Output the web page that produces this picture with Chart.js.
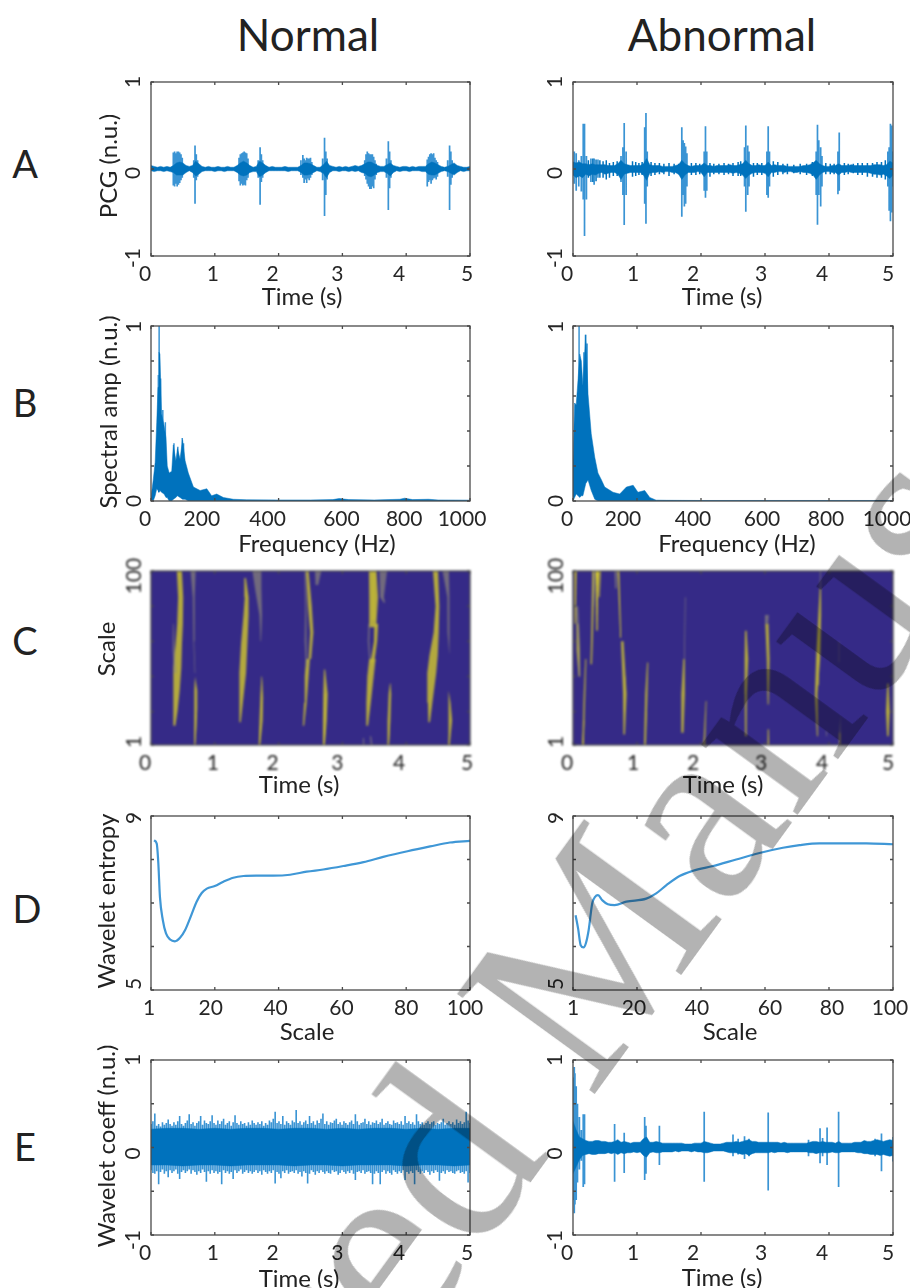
<!DOCTYPE html>
<html>
<head>
<meta charset="utf-8">
<title>PCG panels</title>
<script src="https://cdn.jsdelivr.net/npm/chart.js@4"></script>
<style>
  html, body { margin: 0; background: #fff; width: 910px; height: 1288px; overflow: hidden; }
  canvas { position: absolute; filter: blur(0.5px); }
  .txt { position: absolute; font-family: Lato, sans-serif; color: #222; white-space: nowrap; transform: translate(-50%, -50%); }
  .rot { transform: translate(-50%, -50%) rotate(-90deg); }
  #mark { position: absolute; left: -96px; top: 1895px; font: 260px "Liberation Serif", serif; color: #b3b3b3;
    white-space: nowrap; line-height: 0; transform-origin: 0 0; transform: rotate(-54deg); mix-blend-mode: multiply; }
</style>
</head>
<body>
<script>
// Panel A, PCG. Bands hold one value per 0.05 s, spikes are read one by one.
const aNormalHi = [
  .04,.03,.02,.03,.02,.03,.02,.04,.07,.08, .07,.04,.03,.04,.09,.06,.03,.02,.03,.02,
  .02,.03,.02,.02,.03,.02,.02,.04,.07,.09, .07,.04,.02,.03,.09,.07,.04,.02,.03,.02,
  .02,.02,.03,.02,.02,.02,.02,.04,.07,.07, .06,.04,.02,.02,.05,.09,.04,.03,.02,.03,
  .02,.03,.02,.03,.04,.03,.04,.06,.08,.08, .06,.04,.03,.03,.05,.07,.04,.03,.02,.03,
  .03,.02,.03,.02,.03,.03,.03,.06,.08,.07, .05,.03,.02,.03,.05,.07,.04,.03,.02,.02, .03];
const aNormalLo = [
  -.02,-.03,-.02,-.02,-.03,-.02,-.03,-.04,-.07,-.07, -.07,-.04,-.02,-.04,-.08,-.06,-.03,-.02,-.02,-.02,
  -.03,-.02,-.02,-.03,-.02,-.02,-.02,-.04,-.07,-.08, -.07,-.04,-.03,-.03,-.09,-.07,-.04,-.02,-.02,-.02,
  -.02,-.02,-.02,-.03,-.02,-.02,-.02,-.04,-.07,-.07, -.06,-.04,-.02,-.03,-.05,-.1,-.04,-.02,-.02,-.03,
  -.02,-.02,-.03,-.02,-.03,-.02,-.04,-.05,-.08,-.09, -.07,-.04,-.03,-.03,-.05,-.08,-.04,-.02,-.03,-.02,
  -.02,-.03,-.02,-.02,-.02,-.03,-.03,-.06,-.07,-.07, -.05,-.03,-.02,-.03,-.05,-.07,-.04,-.02,-.03,-.02, -.02];
const aNormalSpikeT = [
  .35,.37,.39,.41,.43,.45,.47,.49, .67,.69,.71,.73,
  1.38,1.40,1.42,1.44,1.46,1.48,1.50,1.52, 1.68,1.71,1.73,1.75,
  2.35,2.38,2.40,2.42,2.44,2.46,2.48,2.50,2.52, 2.69,2.72,2.74,2.76,
  3.35,3.37,3.39,3.41,3.43,3.45,3.47,3.49,3.51,3.53, 3.69,3.72,3.74,3.76,
  4.33,4.35,4.37,4.39,4.41,4.43,4.45,4.47,4.49, 4.65,4.68,4.70,4.72];
const aNormalSpikeHi = [
  .19,.2,.18,.2,.2,.19,.17,.13, .1,.27,.17,.1,
  .13,.17,.18,.19,.2,.19,.18,.12, .1,.25,.17,.1,
  .1,.16,.12,.1,.13,.12,.12,.13,.08, .12,.36,.2,.12,
  .1,.17,.2,.18,.17,.17,.17,.14,.1,.06, .12,.32,.2,.1,
  .11,.14,.17,.18,.17,.18,.13,.1,.08, .1,.27,.2,.1];
const aNormalSpikeLo = [
  -.19,-.2,-.17,-.2,-.18,-.16,-.13,-.1, -.1,-.4,-.13,-.09,
  -.14,-.19,-.17,-.19,-.18,-.19,-.13,-.1, -.1,-.41,-.15,-.1,
  -.07,-.1,-.16,-.12,-.16,-.11,-.13,-.1,-.07, -.13,-.54,-.3,-.12,
  -.08,-.12,-.17,-.2,-.23,-.23,-.2,-.22,-.12,-.07, -.1,-.47,-.22,-.1,
  -.2,-.15,-.13,-.17,-.13,-.11,-.1,-.12,-.09, -.09,-.47,-.18,-.1];

const aAbnormalHi = [
  .08,.07,.08,.06,.06,.05,.06,.05,.05,.05, .05,.04,.04,.04,.06,.1,.06,.05,.04,.04,
  .04,.04,.06,.12,.05,.04,.04,.04,.03,.03, .03,.03,.04,.05,.1,.06,.04,.03,.04,.04,
  .04,.07,.04,.04,.03,.04,.04,.04,.04,.05, .04,.04,.05,.06,.1,.06,.04,.04,.05,.04,
  .04,.08,.04,.05,.04,.04,.04,.03,.03,.03, .03,.03,.04,.04,.05,.07,.1,.06,.04,.03,
  .03,.04,.04,.06,.04,.04,.04,.05,.04,.04, .04,.04,.04,.04,.05,.05,.05,.04,.05,.09, .07];
const aAbnormalLo = [
  -.07,-.1,-.08,-.1,-.06,-.08,-.06,-.07,-.05,-.04, -.06,-.05,-.04,-.04,-.06,-.12,-.06,-.05,-.04,-.04,
  -.04,-.04,-.07,-.13,-.05,-.04,-.04,-.03,-.04,-.03, -.03,-.04,-.04,-.06,-.12,-.07,-.04,-.04,-.04,-.03,
  -.04,-.09,-.04,-.04,-.04,-.04,-.04,-.04,-.04,-.04, -.05,-.04,-.05,-.07,-.11,-.07,-.05,-.04,-.04,-.04,
  -.05,-.09,-.04,-.04,-.03,-.03,-.04,-.03,-.03,-.04, -.04,-.03,-.04,-.04,-.05,-.07,-.12,-.07,-.04,-.03,
  -.03,-.04,-.04,-.07,-.04,-.04,-.03,-.04,-.04,-.04, -.04,-.04,-.04,-.05,-.06,-.06,-.07,-.06,-.08,-.11, -.07];
const aAbnormalSpikeT = [
  .02,.05,.09,.13,.16,.18,.21,.28,.33,.39, .75,.78,.80,.83, 1.12,1.14,1.16, 1.70,1.72,1.74,1.76,1.78,
  2.05,2.07,2.09, 2.68,2.70,2.73,2.75, 3.03,3.05,3.07, 3.80,3.82,3.84,3.87,3.89, 4.14,4.16, 4.92,4.94,4.96,4.98,5.0];
const aAbnormalSpikeHi = [
  .2,.18,.1,.15,.52,.52,.15,.12,.12,.11, .15,.25,.53,.2, .48,.645,.2, .48,.33,.3,.26,.18,
  .2,.49,.2, .25,.5,.27,.2, .2,.49,.2, .2,.51,.33,.25,.15, .2,.42, .2,.25,.52,.5,.2];
const aAbnormalSpikeLo = [
  -.17,-.25,-.2,-.26,-.35,-.77,-.35,-.15,-.18,-.1, -.15,-.3,-.645,-.3, -.4,-.63,-.2, -.55,-.3,-.43,-.4,-.2,
  -.25,-.33,-.25, -.2,-.49,-.3,-.2, -.3,-.33,-.2, -.3,-.64,-.3,-.43,-.2, -.29,-.25, -.2,-.48,-.6,-.5,-.2];
const aAbnormalNoiseT = [.24,.31,.36,.42,.47,.52,.57,.63,.69,.93,.98,1.03,1.08,1.22,1.28,1.35,1.42,1.5,1.58,1.65,1.85,1.92,1.98,2.14,2.2,2.28,2.36,2.43,2.5,2.58,2.62,2.82,2.88,2.95,3.13,3.2,3.28,3.35,3.45,3.55,3.65,3.74,3.95,4.02,4.08,4.24,4.3,4.38,4.45,4.52,4.6,4.68,4.75,4.82,4.88];
const aAbnormalNoiseHi = [.1,.12,.11,.1,.09,.1,.07,.08,.09,.09,.08,.07,.08,.08,.07,.07,.06,.07,.06,.06,.07,.07,.06,.07,.06,.06,.07,.06,.07,.08,.09,.07,.07,.07,.09,.08,.06,.06,.05,.06,.06,.08,.07,.06,.06,.07,.06,.06,.07,.07,.07,.07,.08,.08,.1];
const aAbnormalNoiseLo = [-.1,-.15,-.14,-.1,-.1,-.12,-.1,-.08,-.08,-.09,-.08,-.07,-.07,-.08,-.07,-.06,-.06,-.08,-.06,-.06,-.07,-.07,-.06,-.09,-.06,-.06,-.07,-.06,-.08,-.08,-.08,-.09,-.07,-.07,-.09,-.07,-.06,-.06,-.05,-.06,-.07,-.08,-.06,-.06,-.06,-.07,-.06,-.05,-.07,-.07,-.09,-.09,-.1,-.1,-.12];

// Panel B, spectrum
const bNormalFreq = [0,7,13,18,22,25,28,33,41,47,51,57,65,70,78,83,91,99,107,117,133,154,175,190,206,227,258,300,400,500,570,590,620,700,780,795,820,870,900,1000];
const bNormalHi = [.02,.12,.22,.45,.65,.85,.84,.5,.43,.36,.2,.16,.17,.32,.23,.3,.24,.35,.23,.16,.08,.06,.07,.03,.04,.02,.01,.007,.006,.006,.008,.014,.008,.006,.01,.016,.008,.01,.006,.005];
const bNormalLo = [0,0,.03,.07,.06,.05,.06,.05,.04,.02,.02,0,0,.01,.02,.03,.02,.01,.01,0,0,0,0,0,0,0,0,0,0,0,0,0,0,0,0,0,0,0,0,0];
const bNormalSpikeF = [23,25.5,30,37,45,72,84,98,102];
const bNormalSpikeHi = [.72,1.2,.7,.52,.45,.33,.31,.36,.33];
const bNormalSpikeLo = [.1,.3,.1,.1,.1,.1,.1,.1,.1];

const bAbnormalFreq = [0,5,10,16,21,26,31,40,47,57,68,78,89,99,125,146,167,188,203,224,240,260,292,400,600,800,1000];
const bAbnormalHi = [.22,.56,.55,.7,.84,.8,.66,.95,.61,.385,.25,.16,.12,.08,.05,.04,.08,.09,.05,.06,.02,.005,.004,.003,.003,.003,.003];
const bAbnormalLo = [0,.02,.04,.03,.02,.03,.03,.1,.12,.06,.01,0,0,0,0,0,0,0,0,0,0,0,0,0,0,0,0];
const bAbnormalSpikeF = [19,34,39,44];
const bAbnormalSpikeHi = [1.2,.85,.95,.9];
const bAbnormalSpikeLo = [.3,.1,.15,.15];

// Panel C, scalogram streaks as [time, scale, half width in seconds]
const cNormalMedium = [
  [[.37,12,.012],[.385,20,.03],[.40,32,.05],[.41,45,.065],[.435,58,.05],[.455,70,.045],[.465,85,.04],[.445,100,.04]],
  [[.685,1,.01],[.695,12,.02],[.70,22,.025],[.705,32,.02],[.695,40,.005]],
  [[1.395,14,.012],[1.41,25,.03],[1.44,42,.05],[1.46,58,.05],[1.49,75,.04],[1.50,85,.03],[1.475,96,.012]],
  [[1.70,1,.012],[1.725,15,.025],[1.735,28,.022],[1.735,40,.005]],
  [[2.39,12,.01],[2.42,25,.02],[2.44,40,.03],[2.46,50,.03]],
  [[2.49,50,.02],[2.52,65,.025],[2.49,80,.03],[2.45,100,.02]],
  [[2.71,1,.015],[2.725,15,.03],[2.735,30,.035],[2.72,44,.008]],
  [[3.39,12,.012],[3.41,25,.035],[3.44,40,.05],[3.47,50,.05]],
  [[3.47,48,.03],[3.52,60,.025],[3.53,70,.03]],
  [[3.48,68,.05],[3.49,85,.07],[3.475,100,.06]],
  [[3.72,1,.012],[3.73,15,.022],[3.745,30,.02],[3.75,36,.005]],
  [[4.36,14,.012],[4.375,25,.035],[4.40,42,.07],[4.43,52,.065],[4.47,65,.04],[4.49,80,.03],[4.46,100,.04]],
  [[4.67,1,.012],[4.69,15,.03],[4.68,25,.015],[4.665,32,.004]]];
const cNormalBright = [
  [[.685,1,.006],[.695,10,.008],[.70,18,.007]],
  [[1.70,1,.006],[1.72,12,.01],[1.73,22,.006]],
  [[2.71,1,.01],[2.725,12,.012],[2.73,30,.008]],
  [[3.49,72,.012],[3.485,100,.015]],
  [[3.72,1,.008],[3.73,12,.008],[3.74,22,.005]],
  [[4.67,1,.006],[4.68,10,.006]]];
const cNormalFaint = [
  [[.35,70,.005],[.355,55,.015],[.38,42,.02]],
  [[.66,100,.04],[.67,85,.015],[.67,60,.006],[.69,42,.005]],
  [[1.66,100,.07],[1.68,90,.05],[1.72,75,.02],[1.72,60,.005]],
  [[2.44,45,.01],[2.42,60,.012],[2.43,80,.014],[2.42,100,.012]],
  [[2.62,100,.05],[2.60,92,.02]],
  [[3.43,50,.01],[3.41,60,.012],[3.42,70,.012]],
  [[3.64,100,.06],[3.62,85,.03],[3.66,82,.01]],
  [[3.33,1,.012],[3.33,5,.008]],
  [[3.46,1,.012],[3.44,6,.01]],
  [[4.62,100,.05],[4.66,85,.015],[4.66,65,.012],[4.68,53,.006]]];

const cAbnormalMedium = [
  [[.07,70,.015],[.08,55,.025],[.10,40,.012]],
  [[.156,1,.012],[.18,30,.012],[.2,50,.008]],
  [[.285,47,.012],[.30,67,.014],[.32,100,.02]],
  [[.415,100,.02],[.41,85,.008]],
  [[.77,60,.02],[.81,30,.028],[.80,7,.012]],
  [[1.125,1,.014],[1.146,30,.018],[1.167,48,.008]],
  [[1.715,8,.012],[1.72,30,.028],[1.735,50,.012]],
  [[2.05,1,.014],[2.08,26,.006]],
  [[2.70,6,.012],[2.70,30,.016],[2.71,50,.028],[2.70,66,.012]],
  [[3.05,24,.008],[3.05,50,.022],[3.03,70,.025]],
  [[3.82,6,.008],[3.80,30,.02],[3.83,50,.032],[3.855,75,.022],[3.865,90,.01]],
  [[4.92,6,.012],[4.92,20,.03],[4.92,36,.01]]];
const cAbnormalBright = [
  [[.036,70,.006],[.04,100,.012]],
  [[.156,1,.008],[.17,15,.006]],
  [[.375,66,.008],[.375,100,.016]],
  [[.745,62,.006],[.71,100,.01]],
  [[.81,20,.006],[.81,40,.006]],
  [[1.13,3,.006],[1.14,20,.006]],
  [[3.05,1,.012],[3.05,10,.006]],
  [[4.17,1,.006],[4.17,8,.006]],
  [[3.83,35,.006],[3.85,70,.006]]];
const cAbnormalFaint = [
  [[.10,40,.01],[.08,65,.02],[.06,80,.02]],
  [[.335,100,.02],[.32,80,.01]],
  [[.67,90,.012],[.67,100,.02]],
  [[1.74,50,.006],[1.755,85,.006]],
  [[3.03,70,.02],[3.03,75,.03]],
  [[3.865,90,.006],[3.865,100,.008]],
  [[3.96,6,.006],[3.96,9,.008]],
  [[4.156,48,.004],[4.156,60,.004]],
  [[4.17,8,.006],[4.18,18,.005]]];

// Panel D, wavelet entropy per scale
const dNormalScale = [.94,1.8,2.3,2.8,3.7,4.7,6,7.5,9.1,10.7,12.2,14.3,15.9,17.5,20,22.7,25.8,29,33,38.3,43.6,48.8,54,60.3,66.6,72.8,80.4,87.5,93.7,100];
const dNormalEntropy = [8.44,8.365,7.91,7.14,6.61,6.3,6.16,6.12,6.2,6.38,6.64,7.03,7.23,7.33,7.39,7.49,7.58,7.62,7.63,7.63,7.65,7.72,7.77,7.85,7.94,8.06,8.19,8.3,8.39,8.43];
const dAbnormalScale = [.8,1.6,2.4,3.3,4,4.9,6,6.9,7.8,9.2,10.9,13,16.7,22.9,26,29.2,33.3,37.5,43.8,51,58.3,65.6,70.8,77,83.3,91.7,100];
const dAbnormalEntropy = [6.72,6.41,6.03,5.98,6.07,6.38,6.99,7.14,7.18,7.06,6.97,6.95,7.03,7.1,7.22,7.41,7.62,7.74,7.85,8,8.15,8.27,8.33,8.37,8.37,8.37,8.35];

// Panel E, wavelet coefficients. Normal has one hi/lo pair per 0.03 s over a solid core.
const eNormalCoreHi = [.21,.22,.22,.21,.22,.21,.22,.22,.21,.22,.22,.21,.22,.21,.22,.22,.21,.22,.21,.22,.22];
const eNormalCoreLo = [-.2,-.2,-.21,-.2,-.2,-.21,-.2,-.2,-.2,-.21,-.2,-.2,-.21,-.2,-.2,-.2,-.21,-.2,-.2,-.21,-.2];
const eNormalHi = [
  .27,.3,.39,.25,.27,.24,.29,.26,.28,.32, .27,.25,.29,.26,.3,.36,.27,.25,.28,.31,
  .38,.27,.29,.25,.28,.3,.36,.26,.31,.28, .27,.3,.37,.28,.26,.31,.27,.3,.33,.26,
  .28,.3,.25,.29,.37,.28,.26,.3,.27,.28, .25,.29,.26,.31,.28,.26,.29,.27,.3,.25,
  .28,.26,.31,.29,.33,.41,.28,.3,.27,.36, .26,.3,.28,.26,.31,.29,.43,.28,.3,.26,
  .29,.31,.27,.36,.28,.3,.26,.31,.28,.33, .39,.27,.3,.26,.29,.28,.31,.33,.27,.29,
  .26,.3,.28,.26,.29,.31,.27,.38,.3,.26, .28,.29,.33,.27,.3,.26,.29,.28,.31,.27,
  .29,.33,.26,.28,.3,.27,.26,.31,.28,.29, .27,.3,.26,.36,.28,.3,.27,.29,.26,.38,
  .3,.27,.29,.26,.28,.3,.27,.29,.3,.26, .28,.27,.29,.33,.26,.28,.3,.27,.29,.26,
  .32,.28,.3,.27,.29,.41,.31,.28];
const eNormalLo = [
  -.26,-.29,-.3,-.27,-.42,-.28,-.25,-.3,-.27,-.34, -.26,-.29,-.27,-.25,-.3,-.36,-.28,-.26,-.29,-.27,
  -.25,-.3,-.26,-.28,-.31,-.27,-.29,-.25,-.28,-.39, -.27,-.3,-.26,-.29,-.27,-.3,-.28,-.42,-.26,-.29,
  -.27,-.3,-.28,-.36,-.26,-.29,-.27,-.25,-.3,-.28, -.26,-.29,-.27,-.3,-.28,-.26,-.29,-.27,-.31,-.26,
  -.28,-.3,-.27,-.29,-.26,-.41,-.28,-.3,-.35,-.27, -.29,-.26,-.3,-.28,-.27,-.29,-.26,-.3,-.28,-.33,
  -.27,-.29,-.41,-.3,-.26,-.28,-.31,-.27,-.29,-.26, -.28,-.3,-.27,-.29,-.3,-.26,-.28,-.27,-.31,-.29,
  -.26,-.28,-.3,-.27,-.29,-.26,-.3,-.37,-.28,-.27, -.29,-.26,-.3,-.28,-.27,-.29,-.42,-.3,-.27,-.29,
  -.42,-.28,-.26,-.3,-.27,-.29,-.31,-.26,-.28,-.3, -.27,-.29,-.26,-.37,-.28,-.3,-.27,-.29,-.42,-.26,
  -.28,-.3,-.27,-.29,-.26,-.28,-.31,-.27,-.29,-.26, -.28,-.38,-.29,-.27,-.3,-.26,-.28,-.27,-.29,-.3,
  -.27,-.26,-.29,-.28,-.3,-.27,-.4,-.29];

const eAbnormalHi = [
  .3,.2,.12,.1,.08,.07,.07,.08,.08,.07, .07,.06,.06,.07,.09,.06,.07,.06,.05,.06,
  .06,.06,.1,.12,.06,.06,.07,.06,.05,.05, .05,.05,.05,.05,.05,.04,.04,.04,.05,.05,
  .05,.07,.06,.05,.04,.04,.04,.05,.06,.06, .06,.07,.06,.07,.08,.09,.07,.07,.06,.06,
  .06,.06,.06,.06,.06,.05,.06,.05,.05,.05, .05,.05,.05,.05,.06,.07,.07,.06,.07,.06,
  .06,.06,.05,.07,.05,.05,.05,.05,.06,.06, .06,.08,.07,.07,.08,.09,.08,.07,.08,.09, .08];
const eAbnormalLo = [
  -.3,-.22,-.14,-.09,-.08,-.07,-.08,-.08,-.07,-.07, -.07,-.06,-.07,-.06,-.08,-.06,-.07,-.06,-.06,-.05,
  -.06,-.05,-.09,-.11,-.06,-.05,-.06,-.06,-.05,-.05, -.05,-.05,-.04,-.05,-.04,-.04,-.04,-.05,-.04,-.05,
  -.05,-.06,-.06,-.05,-.04,-.04,-.04,-.04,-.05,-.06, -.06,-.06,-.07,-.08,-.07,-.09,-.07,-.06,-.06,-.06,
  -.06,-.06,-.05,-.06,-.05,-.05,-.05,-.06,-.05,-.05, -.05,-.05,-.05,-.05,-.06,-.06,-.07,-.06,-.06,-.06,
  -.06,-.05,-.06,-.06,-.05,-.05,-.05,-.05,-.05,-.06, -.06,-.07,-.07,-.08,-.08,-.08,-.09,-.08,-.09,-.1, -.09];
const eAbnormalSpikeT = [.01,.02,.03,.05,.07,.10,.13,.16,.18, .65,.8,1.12,1.14,1.35, 2.05,2.5,2.58,2.68,2.75, 3.05,3.68, 3.86,3.9,3.97, 4.15, 4.72,4.82,5.0];
const eAbnormalSpikeHi = [.8,.92,.85,.7,.5,.35,.2,.38,.38, .27,.17,.35,.25,.25, .41,.15,.1,.13,.1, .4,.09, .22,.11,.23, .41, .1,.16,.12];
const eAbnormalSpikeLo = [-.6,-.75,-.65,-.6,-.4,-.25,-.15,-.45,-.42, -.39,-.29,-.37,-.3,-.2, -.39,-.1,-.08,-.13,-.1, -.49,-.1, -.18,-.1,-.2, -.45, -.1,-.27,-.16];

// Axis ticks
const timeTicks = [0,1,2,3,4,5];
const timeLabels = ['0','1','2','3','4','5'];
const freqTicks = [0,200,400,600,800,1000];
const freqLabels = ['0','200','400','600','800','1000'];
const scaleTicks = [0,20,40,60,80,100];
const scaleLabels = ['1','20','40','60','80','100'];
const ampTicks = [-1,0,1];
const ampLabels = ['-1','0','1'];
const coeffTicks = [-1,-.5,0,.5,1];
const coeffLabels = ['-1','','0','','1'];
const specTicks = [0,.2,.4,.6,.8,1];
const specLabels = ['0','','','','','1'];
const cwtTicks = [1,20,40,60,80,100];
const cwtLabels = ['1','','','','','100'];
const entropyTicks = [5,6,7,8,9];
const entropyLabels = ['5','','','','9'];

const BLUE = '#0072bd';
const LIGHT = '#3a94d4';

const colLeft = [151, 573];
const colWidth = [319, 320];
const rowTop = [82, 326, 571, 816, 1060];
const rowHeight = [174, 175, 174, 174, 175];
const PAD_L = 40, PAD_T = 14, PAD_R = 24, PAD_B = 40;

// matlab style box: frame plus short inward ticks on all sides, and nudges the tick labels
const boxPlugin = {
  id: 'boxTicks',
  afterLayout(chart, args, opts) {
    const nudge = (scale, shift, idx) => {
      scale.getLabelItems(chart.chartArea).forEach((item, i) => { item.options.translation[idx] += shift[i] || 0; });
    };
    nudge(chart.scales.x, opts.xShift, 0);
    nudge(chart.scales.y, opts.yShift, 1);
  },
  beforeDatasetsDraw(chart, args, opts) {
    if (!opts.bg) return;
    const a = chart.chartArea;
    chart.ctx.fillStyle = opts.bg;
    chart.ctx.fillRect(a.left, a.top, a.width, a.height);
  },
  afterDatasetsDraw(chart) {
    const { ctx, chartArea: a, scales } = chart;
    ctx.save();
    ctx.strokeStyle = '#4a4a4a';
    ctx.lineWidth = 1.3;
    ctx.strokeRect(a.left, a.top, a.width, a.height);
    ctx.beginPath();
    scales.x.ticks.forEach(t => {
      const px = scales.x.getPixelForValue(t.value);
      ctx.moveTo(px, a.bottom); ctx.lineTo(px, a.bottom - 3);
      ctx.moveTo(px, a.top); ctx.lineTo(px, a.top + 3);
    });
    scales.y.ticks.forEach(t => {
      const py = scales.y.getPixelForValue(t.value);
      ctx.moveTo(a.left, py); ctx.lineTo(a.left + 3, py);
      ctx.moveTo(a.right, py); ctx.lineTo(a.right - 3, py);
    });
    ctx.stroke();
    ctx.restore();
  }
};

// keep the plot box at a fixed size whatever the labels measure
function pinAxis(s, size) {
  if (s.isHorizontal()) s.height = size; else s.width = size;
  s.paddingTop = s.paddingBottom = s.paddingLeft = s.paddingRight = 0;
}

function makePanel(col, row, cfg) {
  const canvas = document.createElement('canvas');
  canvas.width = PAD_L + colWidth[col] + PAD_R;
  canvas.height = PAD_T + rowHeight[row] + PAD_B;
  canvas.style.left = (colLeft[col] - PAD_L) + 'px';
  canvas.style.top = (rowTop[row] - PAD_T) + 'px';
  if (cfg.bg) canvas.style.filter = 'blur(0.9px)';
  document.body.appendChild(canvas);
  const tickFont = { family: 'Lato', size: 21 };
  new Chart(canvas.getContext('2d'), {
    type: 'line',
    data: { datasets: cfg.datasets },
    plugins: [boxPlugin],
    options: {
      responsive: false,
      animation: false,
      events: [],
      layout: { autoPadding: false, padding: { top: PAD_T, right: PAD_R } },
      elements: { point: { radius: 0 }, line: { tension: 0 } },
      plugins: { legend: { display: false }, tooltip: { enabled: false }, boxTicks: { bg: cfg.bg, xShift: cfg.xShift, yShift: cfg.yShift } },
      scales: {
        x: {
          type: 'linear', min: cfg.xTicks[0], max: cfg.xTicks[cfg.xTicks.length - 1],
          grid: { display: false, drawTicks: false }, border: { display: false },
          afterBuildTicks: s => { s.ticks = cfg.xTicks.map(v => ({ value: v })); },
          afterFit: s => pinAxis(s, PAD_B),
          ticks: {
            autoSkip: false, maxRotation: 0, padding: 6, color: '#262626', font: tickFont,
            callback: (v, i) => cfg.xLabels[i]
          }
        },
        y: {
          type: 'linear', min: cfg.yTicks[0], max: cfg.yTicks[cfg.yTicks.length - 1],
          grid: { display: false, drawTicks: false }, border: { display: false },
          afterBuildTicks: s => { s.ticks = cfg.yTicks.map(v => ({ value: v })); },
          afterFit: s => pinAxis(s, PAD_L),
          ticks: {
            autoSkip: false, minRotation: 90, maxRotation: 90, crossAlign: 'center', padding: cfg.yPad,
            color: '#262626', font: tickFont,
            callback: (v, i) => cfg.yLabels[i]
          }
        }
      }
    }
  });
}

// signal drawn as a filled hi/lo band plus single vertical strokes for the spikes
function bandSets(xs, hi, lo) {
  const pts = arr => arr.map((v, i) => ({ x: xs[i], y: v }));
  return [
    { data: pts(hi), borderColor: BLUE, borderWidth: 0.5, backgroundColor: BLUE, fill: '+1' },
    { data: pts(lo), borderColor: BLUE, borderWidth: 0.5, fill: false }
  ];
}
function spikeSet(xs, hi, lo, width, color) {
  const data = [];
  xs.forEach((x, i) => { data.push({ x, y: lo[i] }, { x, y: hi[i] }, { x, y: null }); });
  return { data, borderColor: color || LIGHT, borderWidth: width, fill: false, spanGaps: false };
}
function evenX(arr, span) {
  return arr.map((_, i) => i * span / (arr.length - 1));
}
function streakSets(list, color) {
  return list.map(s => {
    const left = s.map(p => ({ x: p[0] - p[2], y: p[1] }));
    const right = s.map(p => ({ x: p[0] + p[2], y: p[1] })).reverse();
    return { data: left.concat(right), fill: 'shape', backgroundColor: color, borderWidth: 0, borderColor: color };
  });
}
function streakPanel(faint, medium, bright) {
  return [
    ...streakSets(faint, 'rgba(150,146,120,0.62)'),
    ...streakSets(medium, 'rgba(190,180,55,0.92)'),
    ...streakSets(bright, '#f2e81c')
  ];
}
function curveSet(xs, ys) {
  return [{ data: xs.map((x, i) => ({ x, y: ys[i] })), borderColor: '#3f97d6', borderWidth: 2.2, fill: false, cubicInterpolationMode: 'monotone' }];
}

const timeAxis = { xTicks: timeTicks, xLabels: timeLabels };
const freqAxis = { xTicks: freqTicks, xLabels: freqLabels };
const scaleAxis = { xTicks: scaleTicks, xLabels: scaleLabels };

// Row A
makePanel(0, 0, { ...timeAxis, xShift: [-6,-2,-6,-5,-7,-3], yTicks: ampTicks, yLabels: ampLabels, yShift: [2,4,0], yPad: 8,
  datasets: [...bandSets(evenX(aNormalHi, 5), aNormalHi, aNormalLo), spikeSet(aNormalSpikeT, aNormalSpikeHi, aNormalSpikeLo, 1.7)] });
makePanel(1, 0, { ...timeAxis, xShift: [-6,-4,-8,-4,-7,-5], yTicks: ampTicks, yLabels: ampLabels, yShift: [2,4,0], yPad: 8,
  datasets: [...bandSets(evenX(aAbnormalHi, 5), aAbnormalHi, aAbnormalLo), spikeSet(aAbnormalNoiseT, aAbnormalNoiseHi, aAbnormalNoiseLo, 1.5, BLUE), spikeSet(aAbnormalSpikeT, aAbnormalSpikeHi, aAbnormalSpikeLo, 1.7)] });
// Row B
makePanel(0, 1, { ...freqAxis, xShift: [-6,-13,-11,-1,-2,-8], yTicks: specTicks, yLabels: specLabels, yShift: [0,0,0,0,0,1], yPad: 11,
  datasets: [...bandSets(bNormalFreq, bNormalHi, bNormalLo), spikeSet(bNormalSpikeF, bNormalSpikeHi, bNormalSpikeLo, 1.5)] });
makePanel(1, 1, { ...freqAxis, xShift: [-6,-14,-8,-3,-3,-6], yTicks: specTicks, yLabels: specLabels, yShift: [0,0,0,0,0,1], yPad: 11,
  datasets: [...bandSets(bAbnormalFreq, bAbnormalHi, bAbnormalLo), spikeSet(bAbnormalSpikeF, bAbnormalSpikeHi, bAbnormalSpikeLo, 1.5)] });
// Row C
makePanel(0, 2, { ...timeAxis, xShift: [-6,-2,-6,-5,-7,-3], yTicks: cwtTicks, yLabels: cwtLabels, yShift: [-3,0,0,0,0,5], yPad: -2, bg: '#352a87',
  datasets: streakPanel(cNormalFaint, cNormalMedium, cNormalBright) });
makePanel(1, 2, { ...timeAxis, xShift: [-6,-4,-8,-4,-7,-5], yTicks: cwtTicks, yLabels: cwtLabels, yShift: [-3,0,0,0,0,5], yPad: -2, bg: '#352a87',
  datasets: streakPanel(cAbnormalFaint, cAbnormalMedium, cAbnormalBright) });
// Row D
makePanel(0, 3, { ...scaleAxis, xShift: [-2,-4,-3,-1,0,-5], yTicks: entropyTicks, yLabels: entropyLabels, yShift: [-6,0,0,0,2], yPad: 11,
  datasets: curveSet(dNormalScale, dNormalEntropy) });
makePanel(1, 3, { ...scaleAxis, xShift: [0,-3,-4,5,3,-3], yTicks: entropyTicks, yLabels: entropyLabels, yShift: [-6,0,0,0,2], yPad: 11,
  datasets: curveSet(dAbnormalScale, dAbnormalEntropy) });
// Row E
makePanel(0, 4, { ...timeAxis, xShift: [-6,-2,-6,-5,-7,-3], yTicks: coeffTicks, yLabels: coeffLabels, yShift: [5,0,6,0,0], yPad: 8,
  datasets: [...bandSets(evenX(eNormalCoreHi, 5), eNormalCoreHi, eNormalCoreLo), spikeSet(evenX(eNormalHi, 5), eNormalHi, eNormalLo, 1.6)] });
makePanel(1, 4, { ...timeAxis, xShift: [-6,-4,-8,-4,-7,-5], yTicks: coeffTicks, yLabels: coeffLabels, yShift: [5,0,6,0,0], yPad: 8,
  datasets: [...bandSets(evenX(eAbnormalHi, 5), eAbnormalHi, eAbnormalLo), spikeSet(eAbnormalSpikeT, eAbnormalSpikeHi, eAbnormalSpikeLo, 1.7)] });

// Headings, panel letters and axis titles
function addText(text, x, y, size, rotated) {
  const el = document.createElement('div');
  el.className = rotated ? 'txt rot' : 'txt';
  el.textContent = text;
  el.style.left = x + 'px';
  el.style.top = y + 'px';
  el.style.fontSize = size + 'px';
  document.body.appendChild(el);
}
addText('Normal', 308, 34, 44);
addText('Abnormal', 722, 34, 44);
addText('A', 25, 163, 38);
addText('B', 25, 402, 38);
addText('C', 25, 640, 38);
addText('D', 27, 908, 38);
addText('E', 25, 1146, 38);

addText('Time (s)', 302, 295, 24);
addText('Time (s)', 722, 295, 24);
addText('Frequency (Hz)', 317, 542, 24);
addText('Frequency (Hz)', 737, 542, 24);
addText('Time (s)', 299, 783, 24);
addText('Time (s)', 723, 783, 24);
addText('Scale', 307, 1030, 24);
addText('Scale', 730, 1030, 24);
addText('Time (s)', 299, 1277, 24);
addText('Time (s)', 722, 1276, 24);

addText('PCG (n.u.)', 107, 166, 24, true);
addText('Spectral amp (n.u.)', 107, 412, 24, true);
addText('Scale', 105, 649, 24, true);
addText('Wavelet entropy', 105, 901, 24, true);
addText('Wavelet coeff (n.u.)', 105, 1146, 24, true);

const mark = document.createElement('div');
mark.id = 'mark';
mark.textContent = 'Accepted Manuscript';
document.body.appendChild(mark);
</script>
</body>
</html>
